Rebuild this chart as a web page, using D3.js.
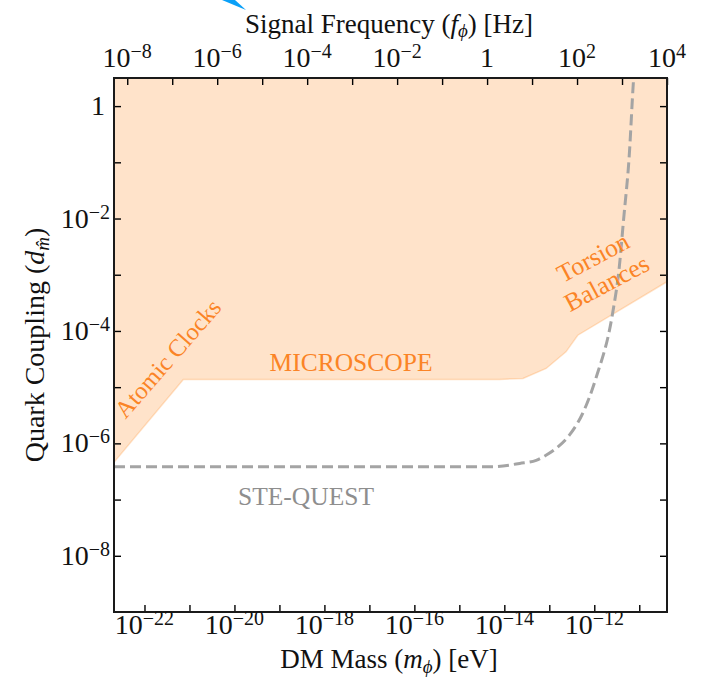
<!DOCTYPE html>
<html>
<head>
<meta charset="utf-8">
<script src="https://cdn.jsdelivr.net/npm/d3@7"></script>
<style>
  body { margin: 0; background: #fff; }
  text { font-family: 'Liberation Serif', 'DejaVu Serif', serif; }
</style>
</head>
<body>
<svg id="chart" width="702" height="682"></svg>
<script>
// Lower edge of the excluded region (atomic clocks, MICROSCOPE, torsion balances)
const excludedMass     = [2.1e-23, 7.3e-22, 7.8e-15, 2.6e-14, 8.5e-14, 2.35e-13, 4.3e-13, 4.14e-11];
const excludedCoupling = [4.6e-7, 1.37e-5, 1.37e-5, 1.43e-5, 2.15e-5, 4.25e-5, 8.4e-5, 7.5e-4];

// Projected STE-QUEST sensitivity
const steQuestMass     = [2.1e-23, 5.4e-15, 2.2e-14, 5.1e-14, 8.6e-14, 1.41e-13, 2.79e-13, 5.5e-13,
                          1.09e-12, 2.55e-12, 3.59e-12, 4.47e-12, 5.98e-12, 7.45e-12, 8.6e-12];
const steQuestCoupling = [3.85e-7, 3.85e-7, 4.4e-7, 5.0e-7, 6.2e-7, 8.1e-7, 1.4e-6, 3.4e-6,
                          1.45e-5, 2.05e-4, 1.35e-3, 9.4e-3, 0.13, 2.9, 12];

// Tick exponents (ticks every decade, labels every second decade)
const massTickExp       = [-22, -21, -20, -19, -18, -17, -16, -15, -14, -13, -12, -11];
const massLabelExp      = [-22, -20, -18, -16, -14, -12];
const couplingTickExp   = [0, -1, -2, -3, -4, -5, -6, -7, -8];
const couplingLabelExp  = [0, -2, -4, -6, -8];
const freqTickExp       = [-8, -7, -6, -5, -4, -3, -2, -1, 0, 1, 2, 3, 4];
const freqLabelExp      = [-8, -6, -4, -2, 0, 2, 4];

const EV_TO_HZ = 2.418e14;   // f = m c^2 / h

const svg = d3.select("#chart");
const L = 114, R = 667, T = 78, B = 612;

const x = d3.scaleLog().domain([2.1e-23, 1e4 / EV_TO_HZ]).range([L, R]);
const xf = d3.scaleLog().domain(x.domain().map(m => m * EV_TO_HZ)).range([L, R]);
const y = d3.scaleLog().domain([1e-9, Math.sqrt(10)]).range([B, T]);

svg.append("defs").append("clipPath").attr("id", "plotClip")
  .append("rect").attr("x", L).attr("y", T).attr("width", R - L).attr("height", B - T);

const plot = svg.append("g").attr("clip-path", "url(#plotClip)");

// Excluded region
const bound = excludedMass.map((m, i) => ({ m, d: excludedCoupling[i] }));
plot.append("path")
  .datum(bound)
  .attr("fill", "#ff7f0e")
  .attr("fill-opacity", 0.22)
  .attr("d", d3.area().x(d => x(d.m)).y0(y(100)).y1(d => y(d.d)));
plot.append("path")
  .datum(bound)
  .attr("fill", "none")
  .attr("stroke", "#ff7f0e")
  .attr("stroke-opacity", 0.22)
  .attr("stroke-width", 1.5)
  .attr("d", d3.line().x(d => x(d.m)).y(d => y(d.d)));

// STE-QUEST projection
const ste = steQuestMass.map((m, i) => ({ m, d: steQuestCoupling[i] }));
plot.append("path")
  .datum(ste)
  .attr("fill", "none")
  .attr("stroke", "#a4a4a4")
  .attr("stroke-width", 3)
  .attr("stroke-dasharray", "11,5")
  .attr("d", d3.line().x(d => x(d.m)).y(d => y(d.d)).curve(d3.curveMonotoneX));

// Axes with inward ticks on all four sides
function styleAxis(g) {
  g.select(".domain").remove();
  g.selectAll(".tick line").attr("stroke", "#000").attr("stroke-width", 1.4);
  g.selectAll(".tick text").remove();
}
const pow = e => Math.pow(10, e);
svg.append("g").attr("transform", `translate(${L},0)`)
  .call(d3.axisLeft(y).tickValues(couplingTickExp.map(pow)).tickSizeInner(-7).tickSizeOuter(0))
  .call(styleAxis);
svg.append("g").attr("transform", `translate(${R},0)`)
  .call(d3.axisRight(y).tickValues(couplingTickExp.map(pow)).tickSizeInner(-7).tickSizeOuter(0))
  .call(styleAxis);
svg.append("g").attr("transform", `translate(0,${B})`)
  .call(d3.axisBottom(x).tickValues(massTickExp.map(pow)).tickSizeInner(-7).tickSizeOuter(0))
  .call(styleAxis);
svg.append("g").attr("transform", `translate(0,${T})`)
  .call(d3.axisTop(xf).tickValues(freqTickExp.map(pow)).tickSizeInner(-7).tickSizeOuter(0))
  .call(styleAxis);

// Frame
svg.append("rect")
  .attr("x", L).attr("y", T).attr("width", R - L).attr("height", B - T)
  .attr("fill", "none").attr("stroke", "#1a1a1a").attr("stroke-width", 2);

// Power-of-ten tick labels
const BASE_FS = 28, SUP_FS = 20;
function powerLabel(g, e, px, py, anchor) {
  const t = g.append("text").attr("x", px).attr("y", py)
    .attr("text-anchor", anchor).attr("font-size", BASE_FS).attr("fill", "#111");
  if (e === 0) { t.text("1"); return; }
  t.append("tspan").text("10");
  t.append("tspan").attr("dy", -9).attr("font-size", SUP_FS).text(e < 0 ? "\u2212" + (-e) : String(e));
}
const labels = svg.append("g");
couplingLabelExp.forEach(e => powerLabel(labels, e, e === 0 ? 105 : 110, y(pow(e)) + 9, "end"));
massLabelExp.forEach(e => powerLabel(labels, e, x(pow(e)), 634, "middle"));
freqLabelExp.forEach(e => powerLabel(labels, e, xf(pow(e)), 67, "middle"));

// Axis titles
const TITLE_FS = 27, SUB_FS = 19;
const topTitle = svg.append("text").attr("x", 389).attr("y", 33)
  .attr("text-anchor", "middle").attr("font-size", TITLE_FS).attr("fill", "#111");
topTitle.append("tspan").text("Signal Frequency (");
topTitle.append("tspan").attr("font-style", "italic").text("f");
topTitle.append("tspan").attr("font-style", "italic").attr("font-size", SUB_FS).attr("dy", 4).text("\u03D5");
topTitle.append("tspan").attr("dy", -4).text(") [Hz]");

const botTitle = svg.append("text").attr("x", 389).attr("y", 668)
  .attr("text-anchor", "middle").attr("font-size", TITLE_FS).attr("fill", "#111");
botTitle.append("tspan").text("DM Mass (");
botTitle.append("tspan").attr("font-style", "italic").text("m");
botTitle.append("tspan").attr("font-style", "italic").attr("font-size", SUB_FS).attr("dy", 5).text("\u03D5");
botTitle.append("tspan").attr("dy", -5).text(") [eV]");

const leftTitle = svg.append("text")
  .attr("transform", `translate(44,${(T + B) / 2}) rotate(-90)`)
  .attr("text-anchor", "middle").attr("font-size", 28).attr("fill", "#111");
leftTitle.append("tspan").text("Quark Coupling (");
leftTitle.append("tspan").attr("font-style", "italic").text("d");
leftTitle.append("tspan").attr("font-style", "italic").attr("font-size", 19).attr("dy", 5).text("m\u0302");
leftTitle.append("tspan").attr("dy", -5).text(")");

// Region annotations
const ORANGE = "#fb8426", NOTE_FS = 25.5;
svg.append("text").attr("x", 351).attr("y", 371).attr("text-anchor", "middle")
  .attr("font-size", NOTE_FS).attr("fill", ORANGE).text("MICROSCOPE");
svg.append("text").attr("transform", "translate(174,364) rotate(-49)").attr("text-anchor", "middle")
  .attr("font-size", 24.5).attr("fill", ORANGE).text("Atomic Clocks");
const tb = svg.append("text").attr("transform", "translate(597,265) rotate(-28)")
  .attr("text-anchor", "middle").attr("font-size", NOTE_FS).attr("fill", ORANGE);
tb.append("tspan").attr("x", 0).attr("y", 0).text("Torsion");
tb.append("tspan").attr("x", 0).attr("y", 29).text("Balances");
svg.append("text").attr("x", 306).attr("y", 505).attr("text-anchor", "middle")
  .attr("font-size", NOTE_FS).attr("fill", "#8e8e8e").text("STE-QUEST");

// Arrow tip entering from above
svg.append("path").attr("d", "M222,0 L235,0 L246,10 Z").attr("fill", "#0aa0f8");
</script>
</body>
</html>
